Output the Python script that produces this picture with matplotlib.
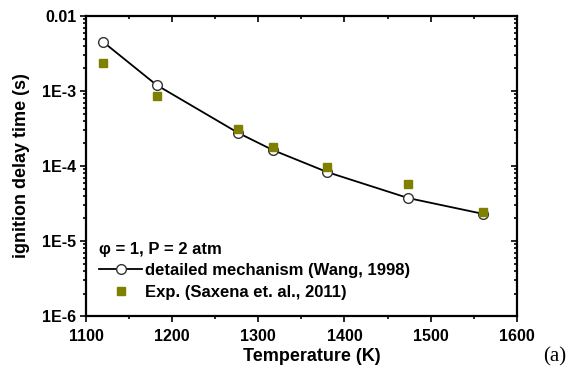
import numpy as np
import matplotlib.pyplot as plt
from matplotlib.ticker import LogLocator, FixedLocator, MultipleLocator, FixedFormatter

plt.rcParams['font.family'] = ['Liberation Sans', 'DejaVu Sans']
plt.rcParams['font.weight'] = 'bold'

# detailed mechanism (Wang, 1998)
temp_model = [1120, 1182, 1277, 1317, 1380, 1474, 1561]
tau_model = [4.5e-3, 1.2e-3, 2.75e-4, 1.63e-4, 8.3e-5, 3.74e-5, 2.3e-5]

# Exp. (Saxena et. al., 2011)
temp_exp = [1120, 1182, 1277, 1317, 1380, 1474, 1561]
tau_exp = [2.36e-3, 8.6e-4, 3.1e-4, 1.8e-4, 9.7e-5, 5.75e-5, 2.44e-5]

ytick_vals = [1e-6, 1e-5, 1e-4, 1e-3, 1e-2]
ytick_labels = ['1E-6', '1E-5', '1E-4', '1E-3', '0.01']

fig = plt.figure(figsize=(5.73, 3.71), dpi=100)
ax = fig.add_axes([0.150, 0.148, 0.752, 0.809])

ax.plot(temp_model, tau_model, '-', color='black', lw=1.3,
        marker='o', ms=7, mfc='white', mec='#333333', mew=1.0,
        label='detailed mechanism (Wang, 1998)', zorder=2)
ax.plot(temp_exp, tau_exp, 's', color='#7f7f00', ms=6, mec='#7f7f00',
        label='Exp. (Saxena et. al., 2011)', zorder=3)

ax.set_yscale('log')
ax.set_xlim(1100, 1600)
ax.set_ylim(1e-6, 1e-2)
ax.xaxis.set_major_locator(MultipleLocator(100))
ax.xaxis.set_minor_locator(MultipleLocator(50))
ax.yaxis.set_major_locator(FixedLocator(ytick_vals))
ax.yaxis.set_major_formatter(FixedFormatter(ytick_labels))
ax.yaxis.set_minor_locator(LogLocator(base=10, subs=np.arange(2, 10), numticks=20))

for s in ax.spines.values():
    s.set_linewidth(1.6)

ax.tick_params(which='both', top=True, right=True, labelsize=11.5, width=1.2)
ax.tick_params(which='major', length=4)
ax.tick_params(which='minor', length=2.5)
ax.tick_params(axis='x', which='both', direction='out', pad=5)
ax.tick_params(axis='y', which='both', direction='out', pad=3)
# top and right ticks point inward
for t in ax.xaxis.get_major_ticks() + ax.xaxis.get_minor_ticks():
    t.tick2line.set_marker(3)
for t in ax.yaxis.get_major_ticks() + ax.yaxis.get_minor_ticks():
    t.tick2line.set_marker(0)
for lbl in ax.get_xticklabels() + ax.get_yticklabels():
    lbl.set_fontweight('bold')

ax.set_xlabel('Temperature (K)', fontsize=13, fontweight='bold', labelpad=3)
ax.xaxis.label.set_x(0.525)
ax.set_ylabel('ignition delay time (s)', fontsize=13, fontweight='bold', labelpad=9)

leg = ax.legend(loc='lower left', bbox_to_anchor=(0.03, 0.055), frameon=False,
                title='\u03c6 = 1, P = 2 atm', fontsize=12, title_fontsize=12,
                handlelength=2.6, handletextpad=0.15, labelspacing=0.38,
                borderpad=0.0, borderaxespad=0.0)
leg._legend_box.align = 'left'
leg.get_title().set_fontweight('bold')
for txt in leg.get_texts():
    txt.set_fontweight('bold')

fig.text(0.988, 0.012, '(a)', ha='right', va='bottom', fontsize=15,
         family=['Liberation Serif', 'DejaVu Serif'], fontweight='normal')

fig.savefig('out.png', dpi=100)
